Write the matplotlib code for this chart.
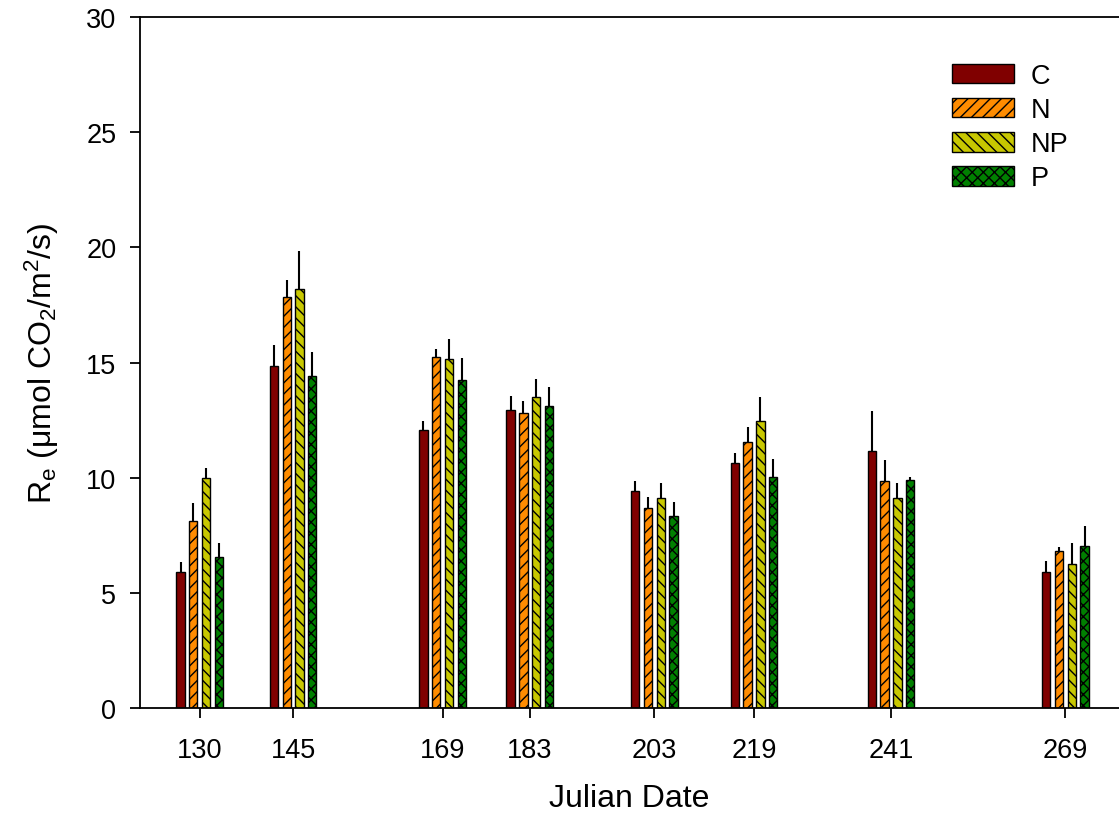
import matplotlib.pyplot as plt
import numpy as np

plt.rcParams["font.family"] = ["Liberation Sans", "DejaVu Sans"]
plt.rcParams["mathtext.fontset"] = "custom"
plt.rcParams["mathtext.rm"] = "Liberation Sans"
plt.rcParams["mathtext.it"] = "Liberation Sans:italic"
plt.rcParams["hatch.linewidth"] = 1.0

dates = [130, 145, 169, 183, 203, 219, 241, 269]
treatments = ["C", "N", "NP", "P"]
means = {
    "C": [5.9, 14.85, 12.05, 12.95, 9.4, 10.65, 11.15, 5.9],
    "N": [8.1, 17.85, 15.25, 12.8, 8.7, 11.55, 9.85, 6.8],
    "NP": [10.0, 18.2, 15.15, 13.5, 9.1, 12.45, 9.1, 6.25],
    "P": [6.55, 14.4, 14.25, 13.1, 8.35, 10.05, 9.9, 7.05],
}
errs = {
    "C": [0.45, 0.9, 0.4, 0.6, 0.45, 0.4, 1.75, 0.5],
    "N": [0.8, 0.75, 0.35, 0.55, 0.45, 0.65, 0.9, 0.2],
    "NP": [0.4, 1.65, 0.85, 0.8, 0.65, 1.05, 0.65, 0.9],
    "P": [0.6, 1.05, 0.95, 0.85, 0.6, 0.75, 0.15, 0.85],
}
colors = {"C": "#800000", "N": "#ff8c00", "NP": "#c8c800", "P": "#008000"}
hatches = {"C": None, "N": "///", "NP": "\\\\\\", "P": "xxx"}

fig = plt.figure(figsize=(11.19, 8.2), dpi=100)
ax = fig.add_axes([0.125, 0.1354, 0.875, 0.8426])

x = np.array(dates, dtype=float)
width = 1.35
for i, t in enumerate(treatments):
    offset = (i - 1.5) * 2.05
    vals = np.array(means[t])
    ax.bar(x + offset, vals, width, color=colors[t], edgecolor="black",
           linewidth=1.0, hatch=hatches[t], label=t, zorder=2)
    ax.errorbar(x + offset, vals, yerr=[np.zeros(len(vals)), errs[t]],
                fmt="none", ecolor="black", elinewidth=1.5, capsize=0, zorder=1)

ax.set_xlim(120.4, 277.6)
ax.set_ylim(0, 30)
ax.set_xticks(dates)
ax.set_yticks(range(0, 31, 5))
ax.tick_params(direction="out", length=7, width=1.3, labelsize=19.5)
ax.tick_params(axis="x", pad=14)
ax.tick_params(axis="y", pad=10)
for side in ("left", "bottom", "top"):
    ax.spines[side].set_linewidth(1.3)
ax.spines["right"].set_visible(False)

ax.set_xlabel("Julian Date", fontsize=23, labelpad=14)
ax.set_ylabel(r"R$_\mathrm{e}$ (μmol CO$_\mathrm{2}$/m$^\mathrm{2}$/s)", fontsize=23, labelpad=18)

ax.legend(loc="upper right", bbox_to_anchor=(0.97, 0.965), frameon=False,
          fontsize=19.5, handlelength=2.3, handleheight=0.75, labelspacing=0.3,
          handletextpad=0.6, borderpad=0.3)

fig.savefig("out.png", dpi=100)
